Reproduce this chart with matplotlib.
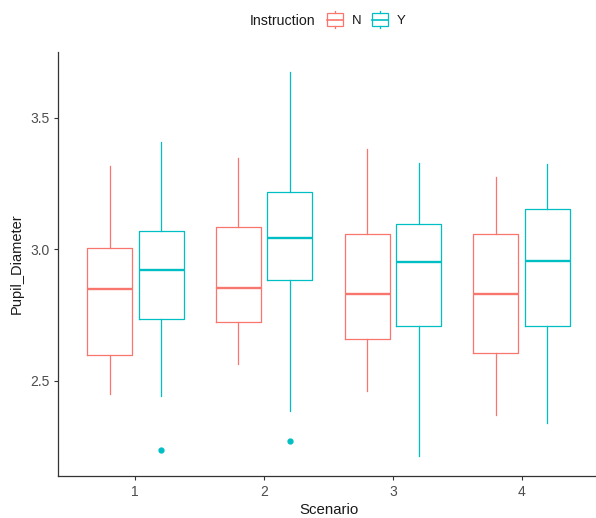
import matplotlib
matplotlib.use("Agg")
import matplotlib.pyplot as plt
from matplotlib.legend_handler import HandlerBase
from matplotlib.patches import Rectangle
from matplotlib.lines import Line2D

plt.rcParams['font.family'] = ['Liberation Sans', 'DejaVu Sans']

scenarios = [1, 2, 3, 4]
groups = ['N', 'Y']
colors = {'N': '#F8766D', 'Y': '#00BFC4'}

# box stats (per scenario)
whislo = {'N': [2.449, 2.564, 2.463, 2.370], 'Y': [2.443, 2.384, 2.216, 2.341]}
q1 = {'N': [2.598, 2.723, 2.660, 2.605], 'Y': [2.735, 2.883, 2.707, 2.710]}
med = {'N': [2.849, 2.853, 2.829, 2.829], 'Y': [2.921, 3.042, 2.950, 2.954]}
q3 = {'N': [3.004, 3.086, 3.057, 3.057], 'Y': [3.068, 3.219, 3.096, 3.153]}
whishi = {'N': [3.318, 3.346, 3.381, 3.274], 'Y': [3.407, 3.672, 3.327, 3.324]}
fliers = {'N': [[], [], [], []], 'Y': [[2.237], [2.273], [], []]}

fig = plt.figure(figsize=(5.96, 5.18), dpi=100)
ax = fig.add_axes([58 / 596, 1 - 475.5 / 518, 541 / 596, 423.2 / 518])

offsets = {'N': -0.2, 'Y': 0.2}
for g in groups:
    stats = []
    for i in range(len(scenarios)):
        stats.append(dict(whislo=whislo[g][i], q1=q1[g][i], med=med[g][i],
                          q3=q3[g][i], whishi=whishi[g][i], fliers=fliers[g][i]))
    c = colors[g]
    ax.bxp(stats, positions=[s + offsets[g] for s in scenarios], widths=0.35,
           showcaps=False, patch_artist=False,
           boxprops=dict(color=c, lw=0.9),
           whiskerprops=dict(color=c, lw=0.9),
           medianprops=dict(color=c, lw=1.7),
           flierprops=dict(marker='o', markerfacecolor=c, markeredgecolor=c,
                           markersize=3.5, linestyle='none'))

ax.set_xlim(0.4, 4.6)
ax.set_ylim(2.1406, 3.748)
ax.set_xticks(scenarios)
ax.set_xticklabels([str(s) for s in scenarios])
ax.set_yticks([2.5, 3.0, 3.5])
ax.set_yticklabels(['2.5', '3.0', '3.5'])

for side in ['top', 'right']:
    ax.spines[side].set_visible(False)
for side in ['left', 'bottom']:
    ax.spines[side].set_color('#333333')
    ax.spines[side].set_linewidth(0.9)
ax.tick_params(axis='both', length=2.75, width=0.8, color='#333333',
               labelsize=10, labelcolor='#4D4D4D')
ax.tick_params(axis='x', pad=4)
ax.tick_params(axis='y', pad=3)

ax.set_xlabel('Scenario', fontsize=10.8, color='#1A1A1A')
ax.set_ylabel('Pupil_Diameter', fontsize=10.5, color='#1A1A1A')
ax.xaxis.set_label_coords(0.5, -0.0815)
ax.xaxis.label.set_va('center')
ax.yaxis.set_label_coords(-0.0758, 0.5)
ax.yaxis.label.set_va('center')


class BoxHandler(HandlerBase):
    def create_artists(self, legend, orig_handle, xdescent, ydescent,
                       width, height, fontsize, trans):
        c = orig_handle.get_color()
        cy = height / 2 - ydescent
        bh = 0.39 * width
        wh = 0.55 * width
        x0 = -xdescent
        box = Rectangle((x0, cy - bh), width, 2 * bh, fill=False,
                        edgecolor=c, lw=0.9, transform=trans)
        mline = Line2D([x0, x0 + width], [cy, cy], color=c, lw=1.2, transform=trans)
        w1 = Line2D([x0 + width / 2] * 2, [cy + bh, cy + wh], color=c, lw=0.9, transform=trans)
        w2 = Line2D([x0 + width / 2] * 2, [cy - bh, cy - wh], color=c, lw=0.9, transform=trans)
        return [box, mline, w1, w2]


handles = [Line2D([], [], color=colors[g]) for g in groups]
fig.legend(handles, groups, handler_map={Line2D: BoxHandler()},
           loc='center left', bbox_to_anchor=(326.7 / 596, 1 - 20.7 / 518),
           ncol=2, frameon=False, fontsize=9.5, handlelength=1.21,
           handleheight=0.9, handletextpad=0.68, columnspacing=0.8,
           borderpad=0, borderaxespad=0, labelcolor='#1A1A1A')
fig.text(250 / 596, 1 - 20.7 / 518, 'Instruction', fontsize=10.2,
         color='#1A1A1A', ha='left', va='center')

fig.savefig('out.png', dpi=100)
